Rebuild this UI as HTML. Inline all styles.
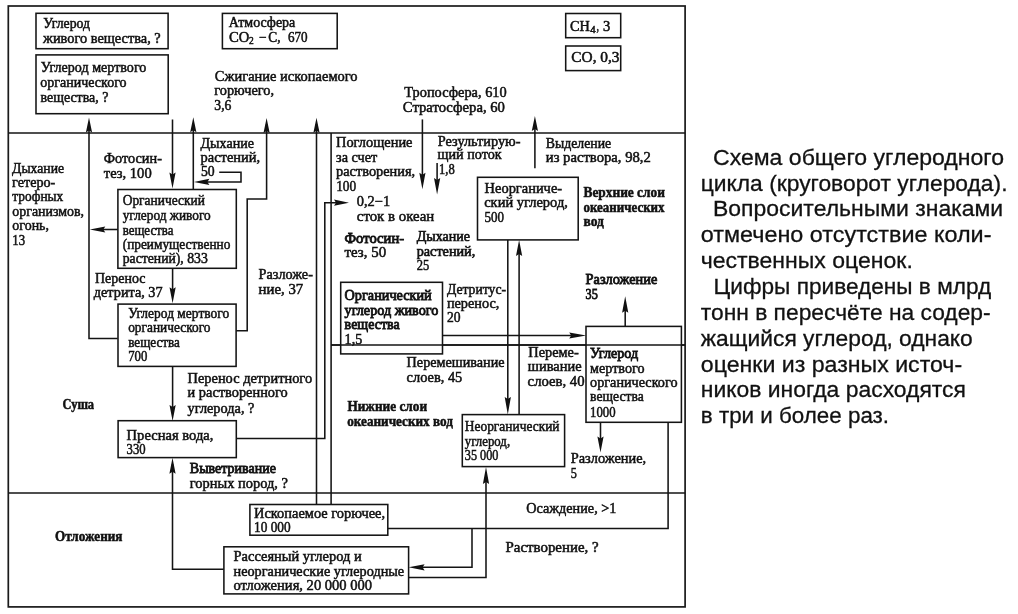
<!DOCTYPE html>
<html><head><meta charset="utf-8"><title>Carbon cycle</title>
<style>
html,body{margin:0;padding:0;background:#fff;}
body{width:1018px;height:614px;overflow:hidden;position:relative;}
svg{position:absolute;left:0;top:0;will-change:transform;}
.t{font-family:"Liberation Serif",serif;font-size:13.8px;fill:#111;stroke:#111;stroke-width:0.5;}
.b{font-weight:bold;}
.h{stroke-width:0.8;}
.m{stroke-width:0.65;}
.c{font-family:"Liberation Sans",sans-serif;font-size:22.9px;fill:#111;stroke:#111;stroke-width:0.3;}
.ln{fill:none;stroke:#141414;stroke-width:1.55;}
.bx{fill:#fff;stroke:#141414;stroke-width:1.55;}
.ar{fill:#111;stroke:none;}
</style></head><body>
<svg width="1018" height="614" viewBox="0 0 1018 614">
<rect x="8.30" y="6.00" width="676.80" height="600.90" fill="none" stroke="#1a1a1a" stroke-width="1.7"/>
<g class="ln">
<polyline points="8.30,133.00 685.10,133.00"/>
<polyline points="8.30,492.90 685.10,492.90"/>
<polyline points="331.10,344.90 685.10,344.90"/>
<polyline points="89.00,124.00 89.00,338.50 117.70,338.50"/>
<polyline points="172.50,119.50 172.50,180.00"/>
<polyline points="193.30,124.00 193.30,189.50"/>
<polyline points="117.80,229.50 98.00,229.50"/>
<polyline points="219.20,172.20 241.00,172.20 241.00,181.90 202.00,181.90"/>
<polyline points="236.10,330.70 247.20,330.70 247.20,198.90 266.60,198.90 266.60,124.00"/>
<polyline points="316.50,124.00 316.50,504.60"/>
<polyline points="331.10,133.00 331.10,504.60"/>
<polyline points="236.30,438.50 324.80,438.50 324.80,202.70 342.00,202.70"/>
<polyline points="422.40,119.40 422.40,182.00"/>
<polyline points="437.10,163.00 437.10,187.00"/>
<polyline points="534.90,122.00 534.90,168.30"/>
<polyline points="507.80,240.00 507.80,407.00"/>
<polyline points="519.10,247.00 519.10,414.60"/>
<polyline points="172.60,268.80 172.60,296.00"/>
<polyline points="172.60,366.60 172.60,413.00"/>
<polyline points="442.50,335.50 578.00,335.50"/>
<polyline points="625.20,326.40 625.20,303.00"/>
<polyline points="600.50,422.30 600.50,445.00"/>
<polyline points="668.10,422.30 668.10,528.50 387.80,528.50"/>
<polyline points="472.00,528.50 472.00,567.30 416.00,567.30"/>
<polyline points="486.00,474.00 486.00,577.50 408.60,577.50"/>
<polyline points="172.50,464.00 172.50,569.20 223.90,569.20"/>
</g>
<g class="bx">
<rect x="36.00" y="13.30" width="132.10" height="35.40"/>
<rect x="36.00" y="54.90" width="132.20" height="58.80"/>
<rect x="222.40" y="13.40" width="114.80" height="35.30"/>
<rect x="565.70" y="13.50" width="55.00" height="24.20"/>
<rect x="565.70" y="46.00" width="55.00" height="24.60"/>
<rect x="117.90" y="189.50" width="118.40" height="78.80"/>
<rect x="118.00" y="304.10" width="118.10" height="62.30"/>
<rect x="118.10" y="420.70" width="118.20" height="36.90"/>
<rect x="477.50" y="177.30" width="100.70" height="62.60"/>
<rect x="340.70" y="282.30" width="101.80" height="71.60"/>
<rect x="586.00" y="326.40" width="95.40" height="95.90"/>
<rect x="462.30" y="414.60" width="102.30" height="52.00"/>
<rect x="249.90" y="504.50" width="137.90" height="30.70"/>
<rect x="223.90" y="546.80" width="184.70" height="47.10"/>
</g>
<g class="ln"><polyline points="331.1,344.90 685.10,344.90"/></g>
<g class="ar">
<polygon points="89.00,117.50 85.90,132.50 89.00,130.50 92.10,132.50"/>
<polygon points="193.30,117.20 190.20,132.20 193.30,130.20 196.40,132.20"/>
<polygon points="266.60,118.00 263.50,133.00 266.60,131.00 269.70,133.00"/>
<polygon points="316.50,117.80 313.40,132.80 316.50,130.80 319.60,132.80"/>
<polygon points="534.90,116.00 531.80,131.00 534.90,129.00 538.00,131.00"/>
<polygon points="172.50,188.50 169.40,172.50 172.50,174.50 175.60,172.50"/>
<polygon points="89.80,229.50 105.30,226.40 103.30,229.50 105.30,232.60"/>
<polygon points="193.90,181.90 209.40,178.80 207.40,181.90 209.40,185.00"/>
<polygon points="349.00,202.70 334.00,199.60 336.00,202.70 334.00,205.80"/>
<polygon points="422.40,189.30 419.30,172.80 422.40,174.80 425.50,172.80"/>
<polygon points="437.10,194.50 434.00,178.00 437.10,180.00 440.20,178.00"/>
<polygon points="519.10,240.00 516.00,256.00 519.10,254.00 522.20,256.00"/>
<polygon points="507.80,414.40 504.70,396.90 507.80,398.90 510.90,396.90"/>
<polygon points="172.60,303.30 169.50,287.30 172.60,289.30 175.70,287.30"/>
<polygon points="172.60,420.90 169.50,404.90 172.60,406.90 175.70,404.90"/>
<polygon points="586.20,335.50 569.20,332.40 571.20,335.50 569.20,338.60"/>
<polygon points="625.20,296.30 622.10,312.80 625.20,310.80 628.30,312.80"/>
<polygon points="600.50,452.60 597.40,436.60 600.50,438.60 603.60,436.60"/>
<polygon points="408.60,567.30 424.60,564.20 422.60,567.30 424.60,570.40"/>
<polygon points="486.00,467.00 482.90,484.00 486.00,482.00 489.10,484.00"/>
<polygon points="172.50,457.70 169.40,473.70 172.50,471.70 175.60,473.70"/>
</g>
<g class="t">
<text x="43.20" y="28.20" textLength="46.9" lengthAdjust="spacingAndGlyphs">Углерод</text>
<text x="43.00" y="43.10" textLength="117.7" lengthAdjust="spacingAndGlyphs">живого вещества, ?</text>
<text x="40.70" y="72.30" textLength="105.7" lengthAdjust="spacingAndGlyphs">Углерод мертвого</text>
<text x="40.30" y="87.00" textLength="86.3" lengthAdjust="spacingAndGlyphs">органического</text>
<text x="40.50" y="101.70" textLength="67.9" lengthAdjust="spacingAndGlyphs">вещества, ?</text>
<text x="228.80" y="27.30" textLength="66.5" lengthAdjust="spacingAndGlyphs">Атмосфера</text>
<text x="214.80" y="80.70" textLength="142.8" lengthAdjust="spacingAndGlyphs">Сжигание ископаемого</text>
<text x="214.30" y="95.30" textLength="59.7" lengthAdjust="spacingAndGlyphs">горючего,</text>
<text x="214.30" y="109.80" textLength="17.1" lengthAdjust="spacingAndGlyphs">3,6</text>
<text x="571.30" y="62.40" textLength="48.2" lengthAdjust="spacingAndGlyphs">CO, 0,3</text>
<text x="404.30" y="97.30" textLength="102.4" lengthAdjust="spacingAndGlyphs">Тропосфера, 610</text>
<text x="402.80" y="111.70" textLength="102.1" lengthAdjust="spacingAndGlyphs">Стратосфера, 60</text>
<text x="12.10" y="172.90" textLength="52.0" lengthAdjust="spacingAndGlyphs">Дыхание</text>
<text x="12.10" y="187.10" textLength="43.2" lengthAdjust="spacingAndGlyphs">гетеро-</text>
<text x="12.30" y="201.30" textLength="51.0" lengthAdjust="spacingAndGlyphs">трофных</text>
<text x="12.30" y="215.60" textLength="71.8" lengthAdjust="spacingAndGlyphs">организмов,</text>
<text x="12.30" y="229.80" textLength="36.7" lengthAdjust="spacingAndGlyphs">огонь,</text>
<text x="12.30" y="244.90" textLength="12.8" lengthAdjust="spacingAndGlyphs">13</text>
<text x="103.80" y="162.70" textLength="58.1" lengthAdjust="spacingAndGlyphs">Фотосин-</text>
<text x="103.80" y="177.80" textLength="47.9" lengthAdjust="spacingAndGlyphs">тез, 100</text>
<text x="200.50" y="147.70" textLength="53.5" lengthAdjust="spacingAndGlyphs">Дыхание</text>
<text x="200.50" y="162.00" textLength="59.7" lengthAdjust="spacingAndGlyphs">растений,</text>
<text x="201.00" y="176.20" textLength="13.7" lengthAdjust="spacingAndGlyphs">50</text>
<text x="122.70" y="205.40" textLength="82.2" lengthAdjust="spacingAndGlyphs">Органический</text>
<text x="122.70" y="219.90" textLength="88.1" lengthAdjust="spacingAndGlyphs">углерод живого</text>
<text x="122.70" y="234.60" textLength="50.7" lengthAdjust="spacingAndGlyphs">вещества</text>
<text x="122.70" y="248.80" textLength="107.7" lengthAdjust="spacingAndGlyphs">(преимущественно</text>
<text x="122.70" y="263.30" textLength="85.1" lengthAdjust="spacingAndGlyphs">растений), 833</text>
<text x="336.00" y="146.80" textLength="76.5" lengthAdjust="spacingAndGlyphs">Поглощение</text>
<text x="336.00" y="161.50" textLength="41.3" lengthAdjust="spacingAndGlyphs">за счет</text>
<text x="336.00" y="176.10" textLength="79.2" lengthAdjust="spacingAndGlyphs">растворения,</text>
<text x="336.20" y="190.70" textLength="20.0" lengthAdjust="spacingAndGlyphs">100</text>
<text x="356.80" y="206.10" textLength="33.3" lengthAdjust="spacingAndGlyphs">0,2−1</text>
<text x="356.80" y="221.20" textLength="77.5" lengthAdjust="spacingAndGlyphs">сток в океан</text>
<text x="344.50" y="243.30" textLength="59.6" lengthAdjust="spacingAndGlyphs" class="h">Фотосин-</text>
<text x="344.50" y="257.40" textLength="41.6" lengthAdjust="spacingAndGlyphs">тез, 50</text>
<text x="416.70" y="241.10" textLength="53.4" lengthAdjust="spacingAndGlyphs" class="m">Дыхание</text>
<text x="416.70" y="255.50" textLength="58.6" lengthAdjust="spacingAndGlyphs" class="m">растений,</text>
<text x="416.70" y="270.20" textLength="12.5" lengthAdjust="spacingAndGlyphs">25</text>
<text x="437.80" y="145.60" textLength="82.7" lengthAdjust="spacingAndGlyphs">Результирую-</text>
<text x="437.60" y="159.20" textLength="64.1" lengthAdjust="spacingAndGlyphs">щий поток</text>
<text x="439.00" y="174.30" textLength="15.7" lengthAdjust="spacingAndGlyphs">1,8</text>
<text x="545.80" y="147.50" textLength="65.4" lengthAdjust="spacingAndGlyphs">Выделение</text>
<text x="545.80" y="161.90" textLength="105.0" lengthAdjust="spacingAndGlyphs">из раствора, 98,2</text>
<text x="484.60" y="192.80" textLength="77.5" lengthAdjust="spacingAndGlyphs">Неорганиче-</text>
<text x="484.20" y="207.40" textLength="83.7" lengthAdjust="spacingAndGlyphs">ский углерод,</text>
<text x="484.60" y="221.50" textLength="19.5" lengthAdjust="spacingAndGlyphs">500</text>
<text x="583.50" y="196.90" textLength="81.4" lengthAdjust="spacingAndGlyphs" class="b">Верхние слои</text>
<text x="583.50" y="211.90" textLength="81.0" lengthAdjust="spacingAndGlyphs" class="b">океанических</text>
<text x="583.50" y="226.30" textLength="20.4" lengthAdjust="spacingAndGlyphs" class="b">вод</text>
<text x="95.00" y="282.80" textLength="50.4" lengthAdjust="spacingAndGlyphs">Перенос</text>
<text x="93.80" y="297.40" textLength="68.8" lengthAdjust="spacingAndGlyphs">детрита, 37</text>
<text x="128.20" y="317.60" textLength="101.0" lengthAdjust="spacingAndGlyphs">Углерод мертвого</text>
<text x="128.20" y="332.10" textLength="82.3" lengthAdjust="spacingAndGlyphs">органического</text>
<text x="128.20" y="346.80" textLength="51.6" lengthAdjust="spacingAndGlyphs">вещества</text>
<text x="128.20" y="361.00" textLength="19.1" lengthAdjust="spacingAndGlyphs">700</text>
<text x="187.60" y="382.60" textLength="124.5" lengthAdjust="spacingAndGlyphs">Перенос детритного</text>
<text x="187.60" y="397.30" textLength="100.1" lengthAdjust="spacingAndGlyphs">и растворенного</text>
<text x="187.60" y="412.60" textLength="66.8" lengthAdjust="spacingAndGlyphs">углерода, ?</text>
<text x="258.60" y="279.10" textLength="54.3" lengthAdjust="spacingAndGlyphs">Разложе-</text>
<text x="258.60" y="293.60" textLength="44.7" lengthAdjust="spacingAndGlyphs">ние, 37</text>
<text x="344.60" y="299.60" textLength="87.1" lengthAdjust="spacingAndGlyphs" class="h">Органический</text>
<text x="344.60" y="314.60" textLength="93.8" lengthAdjust="spacingAndGlyphs" class="h">углерод живого</text>
<text x="344.60" y="329.10" textLength="55.2" lengthAdjust="spacingAndGlyphs" class="h">вещества</text>
<text x="344.60" y="343.50" textLength="17.6" lengthAdjust="spacingAndGlyphs">1,5</text>
<text x="406.60" y="367.30" textLength="98.0" lengthAdjust="spacingAndGlyphs">Перемешивание</text>
<text x="406.60" y="381.90" textLength="55.7" lengthAdjust="spacingAndGlyphs">слоев, 45</text>
<text x="585.60" y="284.20" textLength="71.7" lengthAdjust="spacingAndGlyphs" class="h">Разложение</text>
<text x="585.60" y="298.70" textLength="12.2" lengthAdjust="spacingAndGlyphs" class="h">35</text>
<text x="446.90" y="293.60" textLength="59.2" lengthAdjust="spacingAndGlyphs">Детритус-</text>
<text x="446.90" y="308.00" textLength="52.5" lengthAdjust="spacingAndGlyphs">перенос,</text>
<text x="446.90" y="321.90" textLength="13.6" lengthAdjust="spacingAndGlyphs">20</text>
<text x="528.30" y="356.50" textLength="50.4" lengthAdjust="spacingAndGlyphs">Переме-</text>
<text x="527.80" y="371.20" textLength="53.8" lengthAdjust="spacingAndGlyphs">шивание</text>
<text x="527.60" y="385.90" textLength="57.0" lengthAdjust="spacingAndGlyphs">слоев, 40</text>
<text x="590.10" y="358.30" textLength="48.1" lengthAdjust="spacingAndGlyphs" class="h">Углерод</text>
<text x="590.10" y="372.50" textLength="54.4" lengthAdjust="spacingAndGlyphs">мертвого</text>
<text x="590.10" y="387.20" textLength="87.4" lengthAdjust="spacingAndGlyphs">органического</text>
<text x="590.10" y="401.40" textLength="53.6" lengthAdjust="spacingAndGlyphs">вещества</text>
<text x="590.10" y="416.50" textLength="25.5" lengthAdjust="spacingAndGlyphs">1000</text>
<text x="62.50" y="409.10" textLength="31.6" lengthAdjust="spacingAndGlyphs" class="b">Суша</text>
<text x="126.60" y="439.50" textLength="86.8" lengthAdjust="spacingAndGlyphs">Пресная вода,</text>
<text x="126.60" y="454.00" textLength="19.0" lengthAdjust="spacingAndGlyphs">330</text>
<text x="189.80" y="473.00" textLength="86.1" lengthAdjust="spacingAndGlyphs" class="h">Выветривание</text>
<text x="189.80" y="487.50" textLength="98.1" lengthAdjust="spacingAndGlyphs">горных пород, ?</text>
<text x="347.40" y="411.10" textLength="79.7" lengthAdjust="spacingAndGlyphs" class="b">Нижние слои</text>
<text x="347.20" y="425.70" textLength="105.7" lengthAdjust="spacingAndGlyphs" class="b">океанических вод</text>
<text x="254.00" y="518.40" textLength="131.1" lengthAdjust="spacingAndGlyphs">Ископаемое горючее,</text>
<text x="254.00" y="532.10" textLength="36.6" lengthAdjust="spacingAndGlyphs">10 000</text>
<text x="570.70" y="463.40" textLength="75.5" lengthAdjust="spacingAndGlyphs">Разложение,</text>
<text x="570.70" y="478.00" textLength="6.1" lengthAdjust="spacingAndGlyphs">5</text>
<text x="464.80" y="431.00" textLength="94.7" lengthAdjust="spacingAndGlyphs">Неорганический</text>
<text x="464.80" y="445.60" textLength="45.3" lengthAdjust="spacingAndGlyphs">углерод,</text>
<text x="464.80" y="460.30" textLength="33.6" lengthAdjust="spacingAndGlyphs">35 000</text>
<text x="526.20" y="513.10" textLength="90.2" lengthAdjust="spacingAndGlyphs">Осаждение, &gt;1</text>
<text x="55.00" y="541.00" textLength="67.5" lengthAdjust="spacingAndGlyphs" class="b">Отложения</text>
<text x="233.50" y="560.90" textLength="128.2" lengthAdjust="spacingAndGlyphs">Рассеяный углерод и</text>
<text x="233.50" y="575.80" textLength="170.7" lengthAdjust="spacingAndGlyphs">неорганические углеродные</text>
<text x="233.50" y="590.00" textLength="138.6" lengthAdjust="spacingAndGlyphs">отложения, 20 000 000</text>
<text x="505.50" y="552.40" textLength="93.1" lengthAdjust="spacingAndGlyphs">Растворение, ?</text>
<text x="229.00" y="42.00" textLength="20.3" lengthAdjust="spacingAndGlyphs">CO</text>
<text x="249.00" y="44.20" textLength="4.7" lengthAdjust="spacingAndGlyphs" font-size="9.5">2</text>
<text x="259.00" y="42.00" textLength="7.5" lengthAdjust="spacingAndGlyphs">−</text>
<text x="268.20" y="42.00" textLength="12.3" lengthAdjust="spacingAndGlyphs">C,</text>
<text x="287.90" y="42.00" textLength="19.7" lengthAdjust="spacingAndGlyphs">670</text>
<text x="570.10" y="30.90" textLength="19.8" lengthAdjust="spacingAndGlyphs">CH</text>
<text x="590.30" y="33.00" textLength="5.4" lengthAdjust="spacingAndGlyphs" font-size="10.5">4</text>
<text x="596.60" y="30.90" textLength="2.5" lengthAdjust="spacingAndGlyphs">,</text>
<text x="603.00" y="30.90" textLength="7.3" lengthAdjust="spacingAndGlyphs">3</text>
</g>
<g class="c">
<text x="713.00" y="164.70" textLength="291.1" lengthAdjust="spacingAndGlyphs">Схема общего углеродного</text>
<text x="700.70" y="190.55" textLength="306.8" lengthAdjust="spacingAndGlyphs">цикла (круговорот углерода).</text>
<text x="713.00" y="216.40" textLength="290.1" lengthAdjust="spacingAndGlyphs">Вопросительными знаками</text>
<text x="700.70" y="242.25" textLength="290.8" lengthAdjust="spacingAndGlyphs">отмечено отсутствие коли-</text>
<text x="700.70" y="268.10" textLength="212.1" lengthAdjust="spacingAndGlyphs">чественных оценок.</text>
<text x="713.50" y="293.95" textLength="277.7" lengthAdjust="spacingAndGlyphs">Цифры приведены в млрд</text>
<text x="700.80" y="319.80" textLength="289.8" lengthAdjust="spacingAndGlyphs">тонн в пересчёте на содер-</text>
<text x="700.80" y="345.65" textLength="272.0" lengthAdjust="spacingAndGlyphs">жащийся углерод, однако</text>
<text x="700.80" y="371.50" textLength="261.3" lengthAdjust="spacingAndGlyphs">оценки из разных источ-</text>
<text x="700.80" y="397.35" textLength="265.1" lengthAdjust="spacingAndGlyphs">ников иногда расходятся</text>
<text x="700.80" y="423.20" textLength="188.3" lengthAdjust="spacingAndGlyphs">в три и более раз.</text>
</g>
</svg>
</body></html>
